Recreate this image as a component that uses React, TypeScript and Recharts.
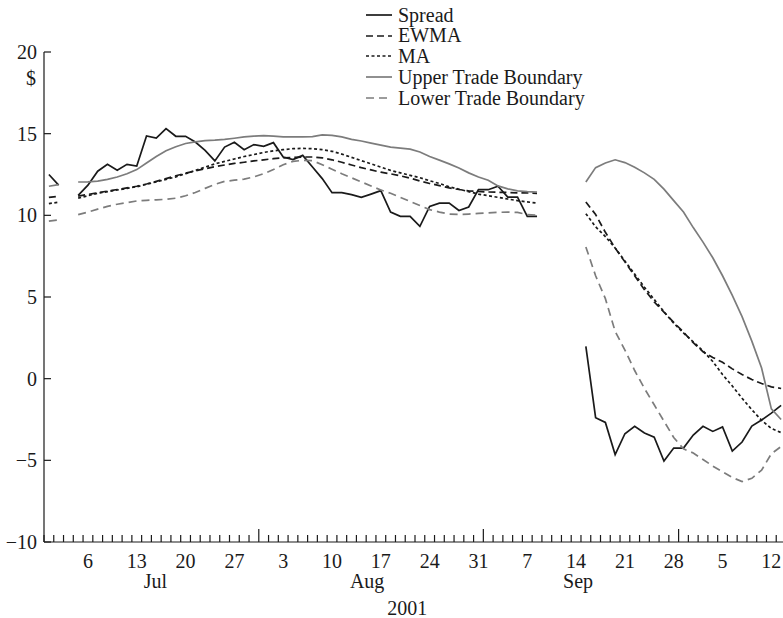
import React from 'react';
import { LineChart, Line, XAxis, YAxis, Legend } from 'recharts';

// trading days (weekdays) from 2 Jul 2001 to 15 Oct 2001
const tradingDays = [
  'Jul 2','Jul 3','Jul 4','Jul 5','Jul 6','Jul 9','Jul 10','Jul 11','Jul 12','Jul 13',
  'Jul 16','Jul 17','Jul 18','Jul 19','Jul 20','Jul 23','Jul 24','Jul 25','Jul 26','Jul 27',
  'Jul 30','Jul 31','Aug 1','Aug 2','Aug 3','Aug 6','Aug 7','Aug 8','Aug 9','Aug 10',
  'Aug 13','Aug 14','Aug 15','Aug 16','Aug 17','Aug 20','Aug 21','Aug 22','Aug 23','Aug 24',
  'Aug 27','Aug 28','Aug 29','Aug 30','Aug 31','Sep 3','Sep 4','Sep 5','Sep 6','Sep 7',
  'Sep 10','Sep 11','Sep 12','Sep 13','Sep 14','Sep 17','Sep 18','Sep 19','Sep 20','Sep 21',
  'Sep 24','Sep 25','Sep 26','Sep 27','Sep 28','Oct 1','Oct 2','Oct 3','Oct 4','Oct 5',
  'Oct 8','Oct 9','Oct 10','Oct 11','Oct 12','Oct 15',
];

const spread = [
  12.5, 11.85, null, 11.22, 11.85, 12.7, 13.12, 12.76, 13.12, 13.02,
  14.86, 14.73, 15.31, 14.84, 14.84, 14.49, 13.98, 13.33, 14.18, 14.47,
  14.02, 14.33, 14.22, 14.45, 13.57, 13.41, 13.67, 12.96, 12.25, 11.39,
  11.39, 11.27, 11.1, 11.3, 11.51, 10.2, 9.94, 9.94, 9.33, 10.55,
  10.75, 10.75, 10.3, 10.51, 11.57, 11.57, 11.78, 11.12, 11.12, 9.94,
  9.94, null, null, null, null, 1.98, -2.39, -2.68, -4.65, -3.37,
  -2.92, -3.33, -3.58, -5.04, -4.25, -4.25, -3.45, -2.92, -3.23, -2.96,
  -4.43, -3.88, -2.9, -2.53, -2.11, -1.63,
];

const ewma = [
  11.1, 11.17, null, 11.18, 11.28, 11.38, 11.48, 11.58, 11.68, 11.78,
  11.92, 12.08, 12.25, 12.42, 12.58, 12.72, 12.85, 12.98, 13.08, 13.18,
  13.25, 13.33, 13.4, 13.47, 13.52, 13.55, 13.57, 13.57, 13.52, 13.4,
  13.25, 13.08, 12.92, 12.78, 12.64, 12.54, 12.42, 12.28, 12.1, 11.95,
  11.82, 11.68, 11.58, 11.5, 11.46, 11.43, 11.41, 11.4, 11.38, 11.37,
  11.35, null, null, null, null, 10.82, 10.05, 8.96, 8.0, 7.15,
  6.3, 5.45, 4.7, 4.07, 3.45, 2.85, 2.2, 1.65, 1.3, 1.0,
  0.6, 0.25, -0.05, -0.3, -0.5, -0.6,
];

const ma = [
  10.72, 10.8, null, 11.05, 11.2, 11.35, 11.45, 11.55, 11.65, 11.75,
  11.9, 12.05, 12.2, 12.35, 12.55, 12.75, 12.95, 13.15, 13.3, 13.45,
  13.6, 13.72, 13.85, 13.95, 14.02, 14.08, 14.1, 14.08, 14.02, 13.92,
  13.75, 13.55, 13.35, 13.15, 12.95, 12.75, 12.6, 12.45, 12.3, 12.12,
  11.95, 11.75, 11.6, 11.45, 11.3, 11.2, 11.1, 11.0, 10.9, 10.82,
  10.75, null, null, null, null, 10.1, 9.3, 8.7, 8.0, 7.2,
  6.4, 5.6, 4.85, 4.1, 3.4, 2.8, 2.25, 1.7, 1.05, 0.25,
  -0.45, -1.2, -1.9, -2.55, -3.05, -3.3,
];

const upper = [
  11.78, 11.88, null, 12.04, 12.05, 12.1, 12.2, 12.35, 12.55, 12.8,
  13.2, 13.6, 13.95, 14.2, 14.4, 14.5, 14.57, 14.6, 14.65, 14.72,
  14.8, 14.85, 14.88, 14.85, 14.8, 14.8, 14.8, 14.82, 14.92, 14.9,
  14.8, 14.65, 14.55, 14.42, 14.3, 14.18, 14.12, 14.05, 13.88, 13.6,
  13.38, 13.15, 12.9, 12.6, 12.35, 12.15, 11.8, 11.62, 11.5, 11.45,
  11.42, null, null, null, null, 12.04, 12.92, 13.2, 13.4, 13.23,
  12.95, 12.6, 12.2, 11.6, 10.9, 10.2, 9.25, 8.36, 7.4, 6.3,
  5.1, 3.8, 2.3, 0.65, -1.85, -2.5,
];

const lower = [
  9.65, 9.72, null, 10.04, 10.2, 10.38, 10.55, 10.68, 10.78, 10.88,
  10.92, 10.95, 10.98, 11.05, 11.2, 11.4, 11.65, 11.9, 12.08, 12.15,
  12.22, 12.35, 12.55, 12.8, 13.1, 13.3, 13.37, 13.35, 13.1, 12.82,
  12.55, 12.3, 12.05, 11.8, 11.55, 11.35, 11.1, 10.85, 10.6, 10.35,
  10.2, 10.08, 10.05, 10.08, 10.12, 10.15, 10.18, 10.2, 10.18, 10.05,
  10.0, null, null, null, null, 8.06, 6.3, 4.9, 2.9, 1.75,
  0.5, -0.6, -1.6, -2.6, -3.6, -4.3, -4.55, -4.95, -5.35, -5.7,
  -6.05, -6.3, -6.1, -5.6, -4.6, -4.15,
];

// x-axis labels (positions are trading-day indices)
const dayLabels = ['6', '13', '20', '27', '3', '10', '17', '24', '31', '7', '14', '21', '28', '5', '12'];
const dayLabelIdx = [4, 9, 14, 19, 24, 29, 34, 39, 44, 49, 54, 59, 64, 69, 74];
const monthLabels = ['Jul', 'Aug', 'Sep'];
const monthLabelPos = [10.9, 32.6, 54.2];
const monthBoundaries = [21.5, 44.5, 64.5];
const yearLabel = '2001';
const yearPos = 36.7;
const yTicks = [-10, -5, 0, 5, 10, 15, 20];

const data = tradingDays.map((d, i) => ({
  t: i,
  date: d,
  spread: spread[i],
  ewma: ewma[i],
  ma: ma[i],
  upper: upper[i],
  lower: lower[i],
}));

const dayBoundaries = tradingDays.map((_, i) => i - 0.5).concat([tradingDays.length - 0.5]);
const xTicks = [...dayBoundaries, ...dayLabelIdx, ...monthLabelPos, yearPos];

const FONT = '"Liberation Serif", "Times New Roman", serif';
const BLACK = '#1a1a1a';
const GRAY = '#7c7c7c';
const AXIS_Y = 542;
const AXIS_X = 44;

const seriesStyle = [
  { key: 'spread', name: 'Spread', color: BLACK, dash: undefined as string | undefined },
  { key: 'ewma', name: 'EWMA', color: BLACK, dash: '7 4' },
  { key: 'ma', name: 'MA', color: BLACK, dash: '3 2.5' },
  { key: 'upper', name: 'Upper Trade Boundary', color: GRAY, dash: undefined },
  { key: 'lower', name: 'Lower Trade Boundary', color: GRAY, dash: '8 5' },
];

const XTick = (props: any) => {
  const { x, payload } = props;
  const v = payload.value;
  const di = dayLabelIdx.indexOf(v);
  if (di >= 0) {
    return (
      <text x={x} y={568} textAnchor="middle" fontFamily={FONT} fontSize={20} fill={BLACK}>
        {dayLabels[di]}
      </text>
    );
  }
  const mi = monthLabelPos.indexOf(v);
  if (mi >= 0) {
    return (
      <text x={x} y={588} textAnchor="middle" fontFamily={FONT} fontSize={20} fill={BLACK}>
        {monthLabels[mi]}
      </text>
    );
  }
  if (v === yearPos) {
    return (
      <text x={x} y={615} textAnchor="middle" fontFamily={FONT} fontSize={20} fill={BLACK}>
        {yearLabel}
      </text>
    );
  }
  const major = monthBoundaries.includes(v);
  return (
    <line x1={x} x2={x} y1={AXIS_Y} y2={AXIS_Y - (major ? 13 : 7)} stroke={BLACK} strokeWidth={1.2} />
  );
};

const YTick = (props: any) => {
  const { y, payload } = props;
  const v = payload.value as number;
  const label = v < 0 ? '\u2212' + Math.abs(v) : String(v);
  return (
    <g>
      <line x1={AXIS_X} x2={AXIS_X + 7} y1={y} y2={y} stroke={BLACK} strokeWidth={1.2} />
      <text x={37} y={y + 7} textAnchor="end" fontFamily={FONT} fontSize={20} fill={BLACK}>
        {label}
      </text>
      {v === 20 && (
        <text x={31} y={y + 33} textAnchor="middle" fontFamily={FONT} fontSize={20} fill={BLACK}>
          $
        </text>
      )}
    </g>
  );
};

const LegendContent = () => (
  <div style={{ fontFamily: FONT, fontSize: 20, color: BLACK, lineHeight: '20.75px' }}>
    {seriesStyle.map((s) => (
      <div key={s.key} style={{ display: 'flex', alignItems: 'center', height: 20.75, whiteSpace: 'nowrap' }}>
        <svg width={26} height={10} style={{ marginRight: 6 }}>
          <line x1={0} x2={26} y1={5} y2={5} stroke={s.color} strokeWidth={1.7} strokeDasharray={s.dash} />
        </svg>
        <span>{s.name}</span>
      </div>
    ))}
  </div>
);

export default function App() {
  return (
    <div
      style={{
        position: 'absolute',
        left: 0,
        top: 0,
        width: 783,
        height: 618,
        overflow: 'hidden',
        background: '#fff',
      }}
    >
      <LineChart
        width={800}
        height={618}
        data={data}
        margin={{ top: 52, right: 14, left: 0, bottom: 0 }}
      >
        <XAxis
          dataKey="t"
          type="number"
          domain={[-0.5, 75.5]}
          ticks={xTicks}
          interval={0}
          tick={<XTick />}
          tickLine={false}
          tickSize={0}
          tickMargin={0}
          axisLine={{ stroke: BLACK, strokeWidth: 1.2 }}
          height={76}
          allowDataOverflow
        />
        <YAxis
          type="number"
          domain={[-10, 20]}
          ticks={yTicks}
          interval={0}
          tick={<YTick />}
          tickLine={false}
          tickSize={0}
          tickMargin={0}
          axisLine={{ stroke: BLACK, strokeWidth: 1.2 }}
          width={AXIS_X}
          allowDataOverflow
        />
        <Legend
          layout="horizontal"
          verticalAlign="middle"
          align="center"
          content={<LegendContent />}
          wrapperStyle={{ left: 366, top: 4.6, width: 'auto', height: 'auto' }}
        />
        {seriesStyle.map((s) => (
          <Line
            key={s.key}
            dataKey={s.key}
            name={s.name}
            type="linear"
            stroke={s.color}
            strokeWidth={1.7}
            strokeDasharray={s.dash}
            dot={false}
            activeDot={false}
            connectNulls={false}
            isAnimationActive={false}
          />
        ))}
      </LineChart>
    </div>
  );
}
